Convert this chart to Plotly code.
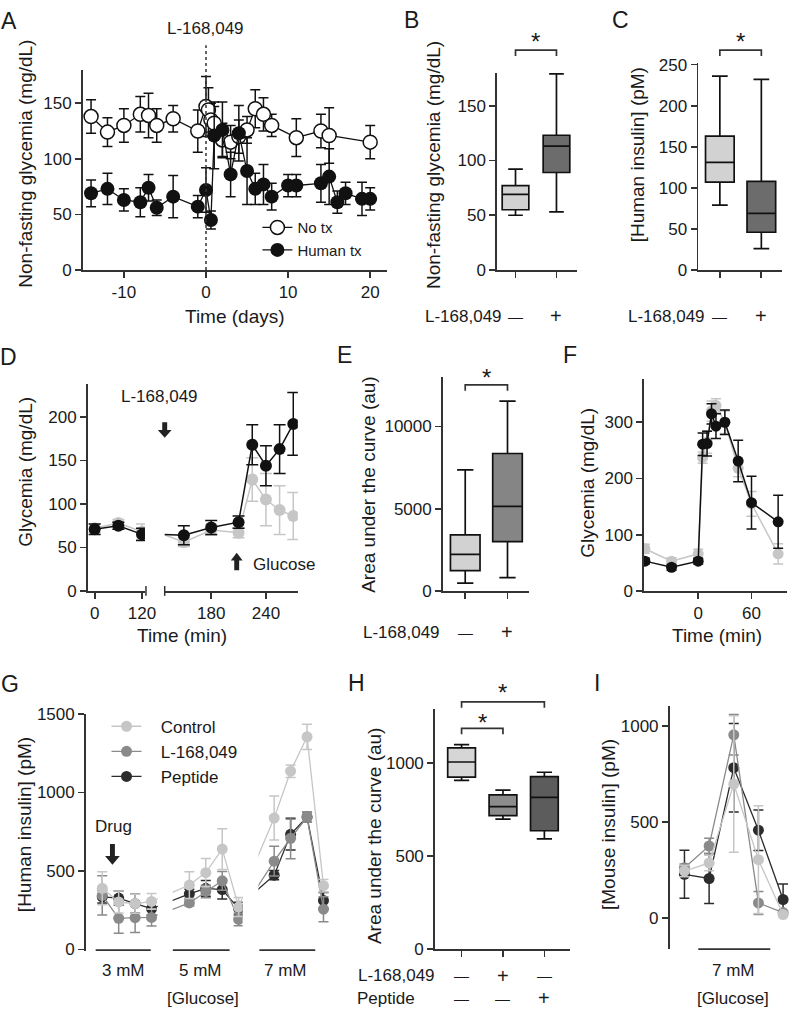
import plotly.graph_objects as go

W, H = 800, 1018
FONT = "Liberation Sans, Arial, Helvetica, sans-serif"
AX = "#333333"
TXT = "#1a1a1a"
C_LIGHT = "#c6c6c6"
C_MID = "#8a8a8a"
C_DARK = "#2c2c2c"
C_BLACK = "#111111"

# ---------------- data ----------------
# A: non-fasting glycemia over time
a_notx_day = [-14, -12, -10, -8, -7, -6, -4, -1, 0, 0.3, 0.6, 1, 2, 3, 4, 5, 6, 7, 8, 11, 14, 15, 20]
a_notx_val = [138, 124, 130, 140, 139, 130, 136, 125, 147, 144, 135, 132, 117, 115, 120, 126, 145, 140, 130, 119, 125, 121, 115]
a_notx_err = [15, 13, 15, 16, 20, 15, 12, 19, 27, 20, 15, 15, 15, 15, 15, 12, 17, 15, 10, 17, 15, 25, 15]
a_hum_day = [-14, -12, -10, -8, -7, -6, -4, -1, 0, 0.6, 1, 2, 3, 4, 5, 6, 7, 8, 10, 11, 14, 15, 16, 17, 19, 20]
a_hum_val = [69, 73, 63, 61, 74, 56, 66, 57, 72, 45, 121, 126, 86, 123, 89, 73, 77, 66, 76, 76, 78, 84, 61, 69, 64, 64]
a_hum_err = [12, 14, 10, 13, 12, 7, 19, 10, 20, 8, 30, 25, 20, 25, 30, 14, 18, 12, 10, 10, 17, 25, 10, 10, 15, 10]

# B: box stats (lowerfence, q1, median, q3, upperfence)
b_groups = ["-", "+"]
b_stats = [[50, 55, 69, 77, 92], [53, 89, 113, 123, 179]]
# C
c_stats = [[79, 107, 131, 163, 236], [26, 46, 69, 108, 232]]
# D: glycemia during test (min)
d_t = [0, 60, 120, 150, 180, 210, 225, 240, 255, 270]
d_ctrl = [72, 78, 68, 56, 70, 67, 128, 105, 93, 86]
d_ctrl_err = [5, 4, 9, 5, 6, 6, 25, 30, 28, 27]
d_drug = [71, 75, 65, 64, 73, 79, 168, 144, 163, 192]
d_drug_err = [6, 4, 7, 11, 8, 7, 23, 23, 28, 36]
# E
e_stats = [[480, 1230, 2220, 3410, 7360], [810, 3000, 5140, 8350, 11530]]
# F
f_t = [-60, -30, 0, 5, 10, 15, 20, 30, 45, 60, 90]
f_ctrl = [75, 53, 66, 237, 265, 320, 330, 300, 218, 155, 66]
f_ctrl_err = [8, 6, 8, 10, 20, 18, 12, 20, 15, 22, 18]
f_drug = [53, 42, 53, 261, 262, 315, 293, 300, 231, 157, 123]
f_drug_err = [5, 5, 5, 20, 22, 18, 22, 22, 37, 47, 47]
# G: human insulin, perifusion samples (3 mM, 5 mM, 7 mM glucose)
g_pos = [1, 2, 3, 4, 6.3, 7.3, 8.3, 9.3, 11.6, 12.6, 13.6, 14.6]
g_ctrl = [389, 302, 291, 306, 410, 489, 639, 270, 837, 1135, 1354, 406]
g_ctrl_err = [105, 70, 60, 50, 85, 90, 130, 60, 140, 40, 80, 40]
g_l = [344, 198, 202, 204, 296, 369, 437, 191, 562, 708, 843, 256]
g_l_err = [125, 95, 95, 55, 20, 40, 60, 40, 95, 130, 30, 80]
g_pep = [335, 327, 291, 260, 354, 389, 381, 260, 473, 733, 843, 312]
g_pep_err = [40, 45, 60, 40, 30, 50, 60, 40, 30, 100, 30, 50]
g_conc = ["3 mM", "5 mM", "7 mM"]
# H
h_stats = [[905, 923, 1004, 1080, 1097], [698, 716, 765, 828, 853], [591, 635, 814, 925, 949]]
# I: mouse insulin
i_pos = [1, 2, 3, 4, 5]
i_ctrl = [246, 288, 698, 305, 20]
i_ctrl_err = [30, 40, 355, 280, 10]
i_l = [263, 376, 954, 80, 30]
i_l_err = [20, 40, 105, 60, 10]
i_pep = [229, 207, 783, 458, 98]
i_pep_err = [125, 130, 230, 105, 80]


# ---------------- helpers ----------------
def fx(p):
    return p / W


def fy(p):
    return 1 - p / H


def xdom(a, b):
    return [a / W, b / W]


def ydom(top, bot):
    return [1 - bot / H, 1 - top / H]


def ax(**kw):
    d = dict(showline=True, linecolor=AX, linewidth=1.7, ticks="outside", ticklen=6,
             tickwidth=1.7, tickcolor=AX, showgrid=False, zeroline=False,
             tickfont=dict(family=FONT, size=17, color=TXT), fixedrange=True)
    d.update(kw)
    return d


def hidden_ax(**kw):
    d = dict(visible=False, showgrid=False, zeroline=False, fixedrange=True)
    d.update(kw)
    return d


def err(arr, color, w=5):
    return dict(type="data", array=arr, visible=True, color=color, thickness=1.5, width=w)


fig = go.Figure()

# ---- A ----
fig.add_trace(go.Scatter(x=a_notx_day, y=a_notx_val, error_y=err(a_notx_err, C_BLACK),
                         mode="lines+markers", name="No tx", legend="legend",
                         line=dict(color=C_BLACK, width=1.3),
                         marker=dict(size=14, color="white", line=dict(color=C_BLACK, width=1.5)),
                         xaxis="x", yaxis="y"))
fig.add_trace(go.Scatter(x=a_hum_day, y=a_hum_val, error_y=err(a_hum_err, C_BLACK),
                         mode="lines+markers", name="Human tx", legend="legend",
                         line=dict(color=C_BLACK, width=1.3),
                         marker=dict(size=14, color=C_BLACK),
                         xaxis="x", yaxis="y"))


def add_boxes(stats, colors, xa, ya, width):
    for i, (s, col) in enumerate(zip(stats, colors)):
        fig.add_trace(go.Box(x=[i], lowerfence=[s[0]], q1=[s[1]], median=[s[2]], q3=[s[3]],
                             upperfence=[s[4]], fillcolor=col, line=dict(color=C_BLACK, width=1.7),
                             width=width, whiskerwidth=0.55, boxpoints=False, showlegend=False,
                             xaxis=xa, yaxis=ya))


add_boxes(b_stats, ["#d2d2d2", "#6c6c6c"], "x2", "y2", 0.65)
add_boxes(c_stats, ["#d2d2d2", "#6c6c6c"], "x3", "y3", 0.69)

# ---- D (broken x-axis: two segments sharing y4) ----
for xa in ["x4", "x5"]:
    fig.add_trace(go.Scatter(x=d_t, y=d_ctrl, error_y=err(d_ctrl_err, C_LIGHT, 6), mode="lines+markers",
                             line=dict(color=C_LIGHT, width=1.5), marker=dict(size=12, color=C_LIGHT),
                             showlegend=False, xaxis=xa, yaxis="y4"))
    fig.add_trace(go.Scatter(x=d_t, y=d_drug, error_y=err(d_drug_err, C_BLACK, 6), mode="lines+markers",
                             line=dict(color=C_BLACK, width=1.5), marker=dict(size=12, color=C_BLACK),
                             showlegend=False, xaxis=xa, yaxis="y4"))

add_boxes(e_stats, ["#d2d2d2", "#858585"], "x6", "y6", 0.7)

# ---- F ----
fig.add_trace(go.Scatter(x=f_t, y=f_ctrl, error_y=err(f_ctrl_err, C_LIGHT), mode="lines+markers",
                         line=dict(color=C_LIGHT, width=1.5), marker=dict(size=11, color=C_LIGHT),
                         showlegend=False, xaxis="x7", yaxis="y7"))
fig.add_trace(go.Scatter(x=f_t, y=f_drug, error_y=err(f_drug_err, C_BLACK), mode="lines+markers",
                         line=dict(color=C_BLACK, width=1.5), marker=dict(size=11, color=C_BLACK),
                         showlegend=False, xaxis="x7", yaxis="y7"))

# ---- G (three glucose segments sharing y8) ----
g_series = [("Peptide", g_pep, g_pep_err, C_DARK, 3),
            ("L-168,049", g_l, g_l_err, C_MID, 2),
            ("Control", g_ctrl, g_ctrl_err, C_LIGHT, 1)]
for name, vals, errs, col, rank in g_series:
    for k, xa in enumerate(["x8", "x9", "x10"]):
        fig.add_trace(go.Scatter(x=g_pos, y=vals, error_y=err(errs, col), mode="lines+markers",
                                 name="\u00a0\u00a0\u00a0" + name, legend="legend2", legendrank=rank,
                                 showlegend=(k == 0),
                                 line=dict(color=col, width=1.3), marker=dict(size=11, color=col),
                                 xaxis=xa, yaxis="y8"))

add_boxes(h_stats, ["#d6d6d6", "#8c8c8c", "#5c5c5c"], "x11", "y11", 0.67)

# ---- I ----
for name, vals, errs, col in [("Peptide", i_pep, i_pep_err, C_DARK),
                              ("L-168,049", i_l, i_l_err, C_MID),
                              ("Control", i_ctrl, i_ctrl_err, C_LIGHT)]:
    fig.add_trace(go.Scatter(x=i_pos, y=vals, error_y=err(errs, col), mode="lines+markers",
                             line=dict(color=col, width=1.3), marker=dict(size=11, color=col),
                             showlegend=False, xaxis="x12", yaxis="y12"))

# ---------------- axes ----------------
layout_axes = dict(
    xaxis=ax(domain=xdom(84, 392), range=[-15, 22], anchor="y", tickvals=[-10, 0, 10, 20],
             ticktext=["-10", "0", "10", "20"]),
    yaxis=ax(domain=ydom(62, 266), range=[0, 180], anchor="x", tickvals=[0, 50, 100, 150]),
    xaxis2=ax(domain=xdom(504, 585), range=[-0.45, 1.5], anchor="y2", tickvals=[0, 1], showticklabels=False),
    yaxis2=ax(domain=ydom(65, 266), range=[0, 180], anchor="x2", tickvals=[0, 50, 100, 150]),
    xaxis3=ax(domain=xdom(708, 793), range=[-0.52, 1.5], anchor="y3", tickvals=[0, 1], showticklabels=False),
    yaxis3=ax(domain=ydom(55, 266), range=[0, 252], anchor="x3", tickvals=[0, 50, 100, 150, 200, 250]),
    xaxis4=ax(domain=xdom(89, 147), range=[-17.5, 127.5], anchor="y4", tickvals=[0, 120]),
    xaxis5=ax(domain=xdom(167, 302), range=[129, 275], anchor="y4", tickvals=[180, 240]),
    yaxis4=ax(domain=ydom(382, 593), range=[0, 238], anchor="x4", tickvals=[0, 50, 100, 150, 200]),
    xaxis6=ax(domain=xdom(449, 536), range=[-0.53, 1.5], anchor="y6", tickvals=[0, 1], showticklabels=False),
    yaxis6=ax(domain=ydom(375, 593), range=[0, 13000], anchor="x6", tickvals=[0, 5000, 10000],
              ticktext=["0", "5000", "10000"]),
    xaxis7=ax(domain=xdom(653, 798), range=[-61, 100], anchor="y7", tickvals=[0, 60]),
    yaxis7=ax(domain=ydom(377, 593), range=[0, 377], anchor="x7", tickvals=[0, 100, 200, 300]),
    xaxis8=hidden_ax(domain=xdom(87, 160), range=[0, 4.38], anchor="y8"),
    xaxis9=hidden_ax(domain=xdom(175, 246), range=[5.28, 9.54], anchor="y8"),
    xaxis10=hidden_ax(domain=xdom(262, 340), range=[10.64, 15.32], anchor="y8"),
    yaxis8=ax(domain=ydom(718, 960), range=[-10.6, 1502], anchor="x8", tickvals=[0, 500, 1000, 1500]),
    xaxis11=ax(domain=xdom(441, 578), range=[-0.643, 2.62], anchor="y11", tickvals=[0, 1, 2],
               showticklabels=False),
    yaxis11=ax(domain=ydom(713, 958), range=[0, 1290], anchor="x11", tickvals=[0, 500, 1000]),
    xaxis12=hidden_ax(domain=xdom(679, 800), range=[0.4, 5.24], anchor="y12"),
    yaxis12=ax(domain=ydom(710, 958), range=[-160, 1105], anchor="x12", tickvals=[0, 500, 1000]),
)

# ---------------- annotations ----------------
ann = []


def text(x, y, s, size=17, **kw):
    d = dict(x=fx(x), y=fy(y), xref="paper", yref="paper", text=s, showarrow=False,
             font=dict(family=FONT, size=size, color=TXT), xanchor="center", yanchor="middle")
    d.update(kw)
    ann.append(d)


def cat_text(xref, cat, y, s, size=17):
    ann.append(dict(x=cat, xref=xref, y=fy(y), yref="paper", text=s, showarrow=False,
                    font=dict(family=FONT, size=size, color=TXT), xanchor="center", yanchor="middle"))


# panel letters
for lab, x, y in [("A", 9, 12), ("B", 417, 11), ("C", 629, 11), ("D", 9, 355), ("E", 349, 353),
                  ("F", 578, 353), ("G", 10, 688), ("H", 361, 687), ("I", 605, 687)]:
    text(x, y, lab, size=23)

# y-axis titles
for s, x, y in [("Non-fasting glycemia (mg/dL)", 25, 158), ("Non-fasting glycemia (mg/dL)", 439, 159),
                ("[Human insulin] (pM)", 646, 149), ("Glycemia (mg/dL)", 26, 472),
                ("Area under the curve (au)", 374, 484), ("Glycemia (mg/dL)", 596, 483),
                ("[Human insulin] (pM)", 25, 831), ("Area under the curve (au)", 379, 842),
                ("[Mouse insulin] (pM)", 617, 831)]:
    text(x, y, s, size=19, textangle=-90)

# x titles & labels
text(238, 313, "Time (days)", size=19)
text(208, 20, "L-168,049")
text(185, 638, "Time (min)", size=19)
text(727, 638, "Time (min)", size=19)
text(162, 395, "L-168,049")
text(255, 566, "Glucose", xanchor="left")
text(115, 833, "Drug")
for s, x in zip(g_conc, [125, 203, 289]):
    text(x, 980, s)
text(206, 1008, "[Glucose]")
text(744, 980, g_conc[2])
text(743, 1008, "[Glucose]")

# treatment rows under box plots
text(470, 313, "L-168,049")
text(676, 313, "L-168,049")
text(407, 635, "L-168,049")
text(402, 985, "L-168,049")
text(391, 1008, "Peptide")
plus_minus = {"-": "\u2014", "+": "+"}
for xref, y in [("x2", 313), ("x3", 313), ("x6", 635)]:
    for i, g in enumerate(b_groups):
        cat_text(xref, i, y, plus_minus[g], size=15 if g == "-" else 20)
h_row1 = ["-", "+", "-"]
h_row2 = ["-", "-", "+"]
for i, (r1, r2) in enumerate(zip(h_row1, h_row2)):
    cat_text("x11", i, 985, plus_minus[r1], size=15 if r1 == "-" else 20)
    cat_text("x11", i, 1008, plus_minus[r2], size=15 if r2 == "-" else 20)

# significance stars
for xref, cat, y in [("x2", 0.5, 33), ("x3", 0.5, 33), ("x6", 0.5, 375), ("x11", 0.5, 727), ("x11", 1.0, 697)]:
    ann.append(dict(x=cat, xref=xref, y=fy(y), yref="paper", text="*", showarrow=False,
                    font=dict(family=FONT, size=24, color=TXT), xanchor="center", yanchor="middle"))

# ---------------- shapes ----------------
shapes = []


def bracket(xref, x0, x1, ytop, ybot):
    shapes.append(dict(type="path", xref=xref, yref="paper",
                       path=f"M {x0},{fy(ybot)} L {x0},{fy(ytop)} L {x1},{fy(ytop)} L {x1},{fy(ybot)}",
                       line=dict(color=AX, width=1.7)))


bracket("x2", 0, 1, 42, 48)
bracket("x3", 0, 1, 42, 48)
bracket("x6", 0, 1, 383, 389)
bracket("x11", 0, 1, 733, 739)
bracket("x11", 0, 2, 706, 712)

# A: treatment start dotted line
shapes.append(dict(type="line", xref="x", yref="paper", x0=0, x1=0, y0=fy(266), y1=fy(37),
                   line=dict(color=AX, width=1.5, dash="dot")))

# glucose period bars under G and I
for xref, x0, x1 in [("x8", 0.6, 3.95), ("x9", 5.28, 8.75), ("x10", 10.7, 14.1)]:
    shapes.append(dict(type="line", xref=xref, yref="paper", x0=x0, x1=x1, y0=fy(959), y1=fy(959),
                       line=dict(color=AX, width=1.7)))
shapes.append(dict(type="line", xref="x12", yref="paper", x0=1.56, x1=4.48, y0=fy(958), y1=fy(958),
                   line=dict(color=AX, width=1.7)))

# D axis break marks
for xb in [148, 167]:
    shapes.append(dict(type="line", xref="paper", yref="paper", x0=fx(xb), x1=fx(xb),
                       y0=fy(588), y1=fy(598), line=dict(color=AX, width=1.5)))


def arrow(cx, tip, tail, sw, hw, hl):
    d = 1 if tip > tail else -1  # pointing down if tip below tail
    base = tip - d * hl
    pts = [(cx - sw / 2, tail), (cx + sw / 2, tail), (cx + sw / 2, base), (cx + hw / 2, base),
           (cx, tip), (cx - hw / 2, base), (cx - sw / 2, base)]
    path = "M " + " L ".join(f"{fx(x)},{fy(y)}" for x, y in pts) + " Z"
    shapes.append(dict(type="path", xref="paper", yref="paper", path=path, fillcolor="#222222",
                       line=dict(width=0)))


arrow(167, 437, 421, 5, 14, 8)   # D drug
arrow(240, 554, 572, 5, 12, 8)   # D glucose (up)
arrow(114, 872, 851, 5, 15, 9)   # G drug

fig.update_layout(
    width=W, height=H, margin=dict(l=0, r=0, t=0, b=0),
    paper_bgcolor="white", plot_bgcolor="white",
    font=dict(family=FONT, size=17, color=TXT),
    showlegend=True,
    legend=dict(x=fx(261), y=fy(206), xanchor="left", yanchor="top", bgcolor="rgba(0,0,0,0)",
                font=dict(family=FONT, size=15, color=TXT), tracegroupgap=0),
    legend2=dict(x=fx(108), y=fy(713), xanchor="left", yanchor="top", bgcolor="rgba(0,0,0,0)",
                 font=dict(family=FONT, size=17, color=TXT), tracegroupgap=0),
    annotations=ann, shapes=shapes,
    **layout_axes,
)

fig.write_html("out.html", config={"displayModeBar": False, "staticPlot": True},
               post_script="document.body.style.margin='0';")
